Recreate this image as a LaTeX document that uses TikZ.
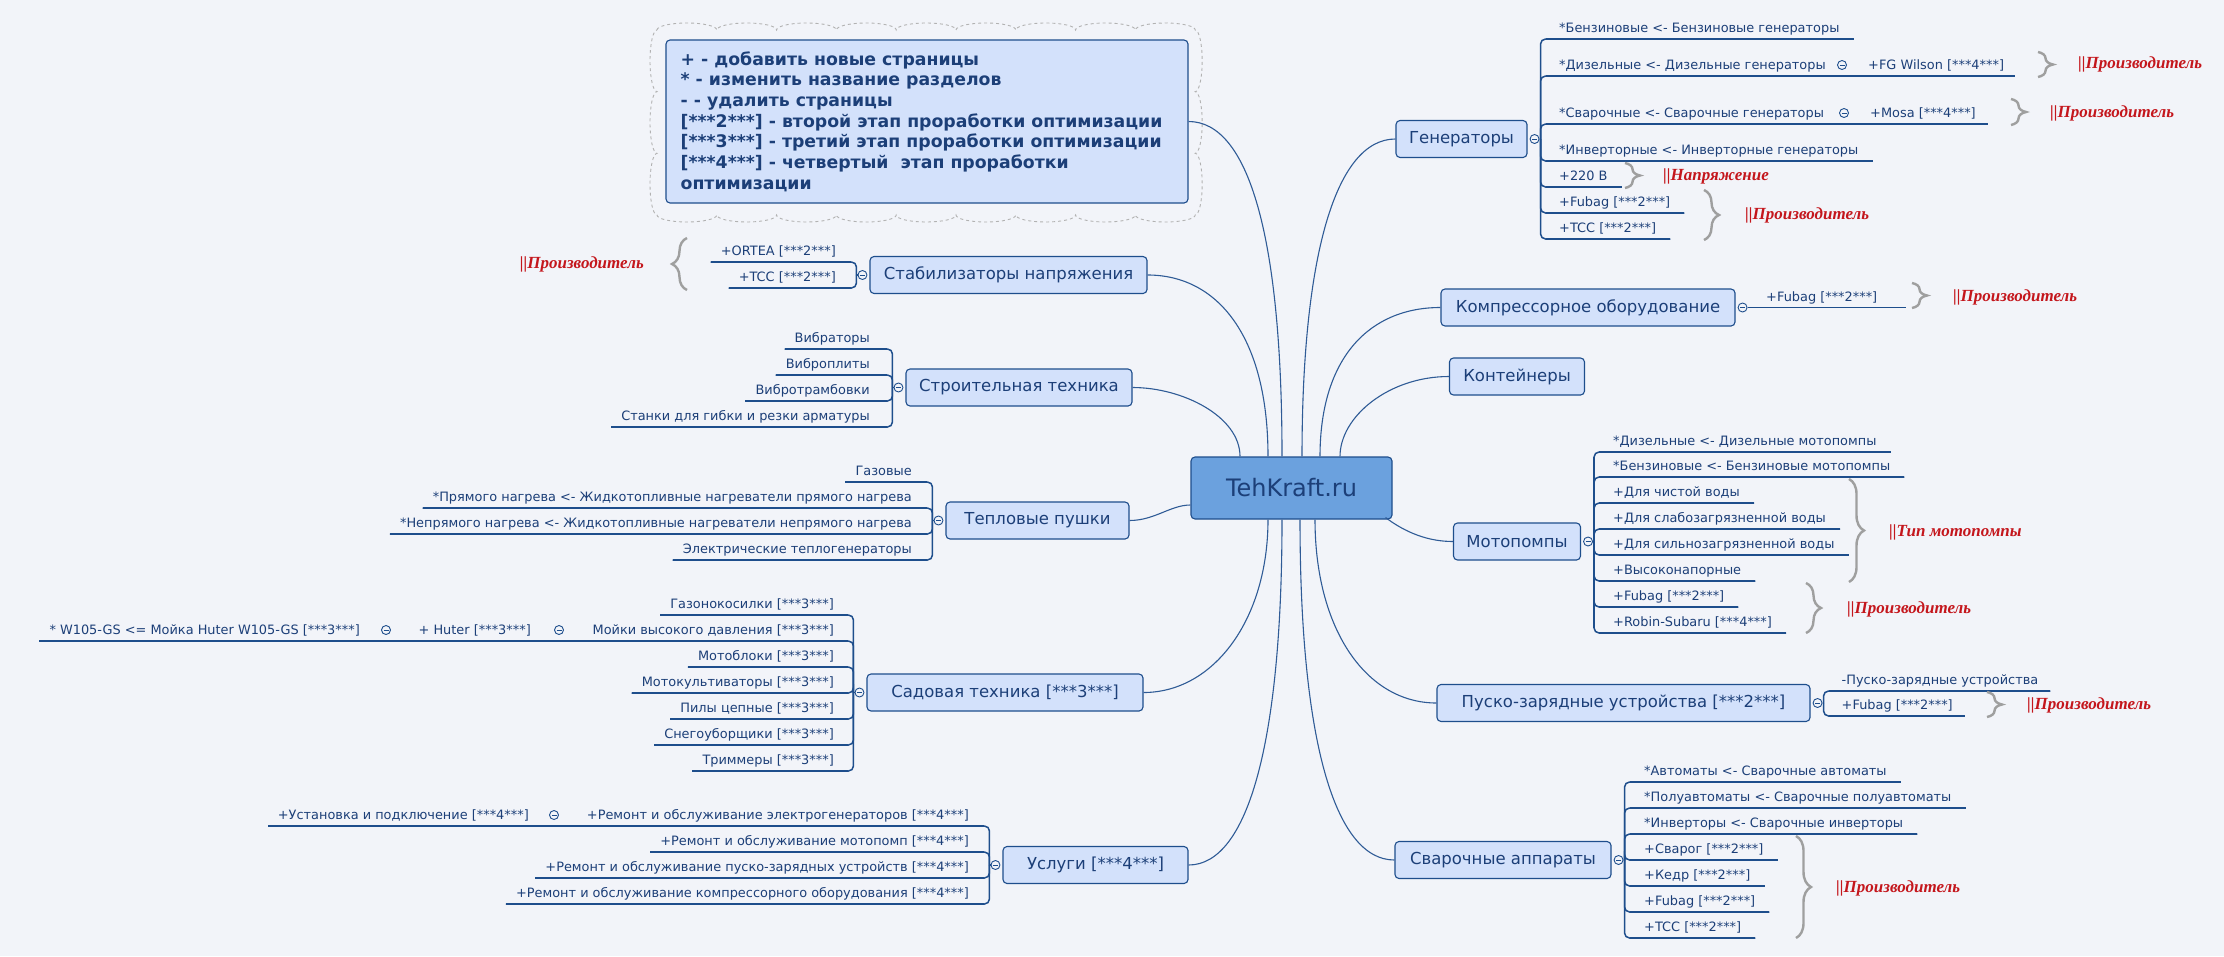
\documentclass[tikz,border=0pt]{standalone}
\usepackage{fontspec}
\setmainfont{DejaVu Sans}
\newfontfamily\tagfont{Liberation Serif}
\usetikzlibrary{decorations.pathreplacing,calc}

\definecolor{paper}{HTML}{F2F4F9}
\definecolor{boxfill}{HTML}{D3E1FB}
\definecolor{boxline}{HTML}{1E4E8C}
\definecolor{ink}{HTML}{1C3F78}
\definecolor{wire}{HTML}{2F5B96}
\definecolor{rootfill}{HTML}{6BA1DE}
\definecolor{tagred}{HTML}{C4161C}

\begin{document}
\begin{tikzpicture}[x=1pt,y=-1pt,
  topic/.style={draw=boxline,fill=boxfill,rounded corners=4pt,line width=1.1pt,text=ink,
    font=\fontsize{16.5}{20}\selectfont,inner sep=0pt,minimum height=37pt},
  kid/.style={text=ink,font=\fontsize{12.9}{15}\selectfont,inner sep=0pt},
  link/.style={draw=wire,line width=1.1pt},
  under/.style={draw=boxline,line width=1.5pt},
  elbow/.style={draw=boxline,line width=1.5pt,rounded corners=5pt},
  fold/.style={circle,draw=boxline,fill=paper,line width=0.9pt,minimum size=9pt,inner sep=0pt,
    path picture={\draw[boxline,line width=0.9pt] ([xshift=2pt]path picture bounding box.west) -- ([xshift=-2pt]path picture bounding box.east);}},
  tag/.style={text=tagred,font=\tagfont\bfseries\itshape\fontsize{17}{20}\selectfont,inner sep=0pt},
  curly/.style={draw=gray!75,line width=2.4pt,decorate,decoration={brace,amplitude=15pt}},
  cloudline/.style={draw=gray!60,dashed,line width=0.9pt}]

\useasboundingbox (0,0) rectangle (2224,956);
\fill[paper] (0,0) rectangle (2224,956);

% cloud round the legend
\draw[cloudline] (657,30)
  \foreach \k in {1,...,9}{ arc[start angle=180,end angle=360,x radius=29.9,y radius=7] }
  \foreach \k in {1,...,3}{ arc[start angle=-90,end angle=90,x radius=7,y radius=30.83] }
  \foreach \k in {1,...,9}{ arc[start angle=0,end angle=180,x radius=29.9,y radius=7] }
  \foreach \k in {1,...,3}{ arc[start angle=90,end angle=270,x radius=7,y radius=30.83] };

% topics
\node[topic,fill=rootfill,minimum width=201pt,minimum height=62pt,font=\fontsize{24}{28}\selectfont] (root) at (1291.5,488) {TehKraft.ru};
\node[topic,minimum width=522pt,minimum height=163pt] (note) at (927,121.5) {};
\node[anchor=west,align=left,inner sep=0pt,text=ink,font=\bfseries\fontsize{17.3}{20.7}\selectfont]
  (notetext) at ([xshift=15pt]note.west)
  {+ - добавить новые страницы\\
   {}* - изменить название разделов\\
   {}- - удалить страницы\\
   {}[***2***] - второй этап проработки оптимизации\\
   {}[***3***] - третий этап проработки оптимизации\\
   {}[***4***] - четвертый\ \ этап проработки\\
   {}оптимизации};
\node[topic,minimum width=277pt] (stab) at (1008.5,275) {Стабилизаторы напряжения};
\node[topic,minimum width=226pt] (constr) at (1019,387.5) {Строительная техника};
\node[topic,minimum width=183pt] (heat) at (1037.5,520.5) {Тепловые пушки};
\node[topic,minimum width=276pt] (garden) at (1005,692.5) {Садовая техника [***3***]};
\node[topic,minimum width=185pt] (serv) at (1095.5,865) {Услуги [***4***]};
\node[topic,minimum width=131pt] (gen) at (1461.5,139) {Генераторы};
\node[topic,minimum width=294pt] (compr) at (1588,307.5) {Компрессорное оборудование};
\node[topic,minimum width=135pt] (cont) at (1517,376.5) {Контейнеры};
\node[topic,minimum width=127pt] (pump) at (1517,541.5) {Мотопомпы};
\node[topic,minimum width=373pt] (charge) at (1623.5,703) {Пуско-зарядные устройства [***2***]};
\node[topic,minimum width=216pt] (weld) at (1503,860) {Сварочные аппараты};

% links from the root
\draw[link] ([xshift=-51.5pt]root.north) .. controls +(0,-40) and +(50,0) .. (constr.east);
\draw[link] ([xshift=-23.5pt]root.north) .. controls +(0,-120) and +(70,0) .. (stab.east);
\draw[link] ([xshift=-9.5pt]root.north) .. controls +(0,-220) and +(60,0) .. (note.east);
\draw[link] ([xshift=10.5pt]root.north) .. controls +(0,-200) and +(-60,0) .. (gen.west);
\draw[link] ([xshift=28.5pt]root.north) .. controls +(0,-100) and +(-70,0) .. (compr.west);
\draw[link] ([xshift=48.5pt]root.north) .. controls +(0,-40) and +(-60,0) .. (cont.west);
\draw[link] ([yshift=-17pt]root.west) .. controls +(-20,0) and +(25,0) .. (heat.east);
\draw[link] ([xshift=-23.5pt]root.south) .. controls +(0,100) and +(70,0) .. (garden.east);
\draw[link] ([xshift=-9.5pt]root.south) .. controls +(0,220) and +(60,0) .. (serv.east);
\draw[link] ([xshift=8.5pt]root.south) .. controls +(0,220) and +(-60,0) .. (weld.west);
\draw[link] ([xshift=23.5pt]root.south) .. controls +(0,110) and +(-70,0) .. (charge.west);
\draw[link] ([xshift=-7pt,yshift=2pt]root.south east) .. controls +(20,15) and +(-25,0) .. (pump.west);

% folds and branch points
\foreach \n in {stab,constr,heat,garden,serv}{
  \node[fold] (\n-f) at ([xshift=-7pt]\n.west) {};
  \coordinate (\n-v) at ([xshift=-13pt]\n.west);
  \draw[under] (\n-f.west) -- (\n-v);
}
\foreach \n in {gen,pump,charge,weld}{
  \node[fold] (\n-f) at ([xshift=7pt]\n.east) {};
  \coordinate (\n-v) at ([xshift=13pt]\n.east);
  \draw[under] (\n-f.east) -- (\n-v);
}
\node[fold] (compr-f) at ([xshift=7pt]compr.east) {};

% left branches
\foreach \lbl/\yy [count=\i] in {+ORTEA [***2***]/262, +TCC [***2***]/288}{
  \node[kid,anchor=base east] (stab-\i) at (836,\yy-6.5) {\lbl};
  \coordinate (stab-u\i) at ([xshift=-10pt,yshift=-6.5pt]stab-\i.base west);
  \draw[elbow] (stab-v) |- (stab-u\i);
  \draw[under] ($(stab-v |- stab-u\i)+(-5,0)$) -- (stab-u\i);
}
\draw[under,shorten <=5pt,shorten >=5pt] (stab-v |- stab-u1) -- (stab-v |- stab-u2);

\foreach \lbl/\yy [count=\i] in {Вибраторы/349, Виброплиты/375, Вибротрамбовки/401,
    Станки для гибки и резки арматуры/427}{
  \node[kid,anchor=base east] (constr-\i) at (870,\yy-6.5) {\lbl};
  \coordinate (constr-u\i) at ([xshift=-10pt,yshift=-6.5pt]constr-\i.base west);
  \draw[elbow] (constr-v) |- (constr-u\i);
  \draw[under] ($(constr-v |- constr-u\i)+(-5,0)$) -- (constr-u\i);
}
\draw[under,shorten <=5pt,shorten >=5pt] (constr-v |- constr-u1) -- (constr-v |- constr-u4);

\foreach \lbl/\yy [count=\i] in {Газовые/482,
    *Прямого нагрева <- Жидкотопливные нагреватели прямого нагрева/508,
    *Непрямого нагрева <- Жидкотопливные нагреватели непрямого нагрева/534,
    Электрические теплогенераторы/560}{
  \node[kid,anchor=base east] (heat-\i) at (912,\yy-6.5) {\lbl};
  \coordinate (heat-u\i) at ([xshift=-10pt,yshift=-6.5pt]heat-\i.base west);
  \draw[elbow] (heat-v) |- (heat-u\i);
  \draw[under] ($(heat-v |- heat-u\i)+(-5,0)$) -- (heat-u\i);
}
\draw[under,shorten <=5pt,shorten >=5pt] (heat-v |- heat-u1) -- (heat-v |- heat-u4);

\foreach \lbl/\yy [count=\i] in {Газонокосилки [***3***]/615, Мойки высокого давления [***3***]/641,
    Мотоблоки [***3***]/667, Мотокультиваторы [***3***]/693, Пилы цепные [***3***]/719,
    Снегоуборщики [***3***]/745, Триммеры [***3***]/771}{
  \node[kid,anchor=base east] (garden-\i) at (834,\yy-6.5) {\lbl};
  \coordinate (garden-u\i) at ([xshift=-10pt,yshift=-6.5pt]garden-\i.base west);
  \draw[elbow] (garden-v) |- (garden-u\i);
  \draw[under] ($(garden-v |- garden-u\i)+(-5,0)$) -- (garden-u\i);
}
\draw[under,shorten <=5pt,shorten >=5pt] (garden-v |- garden-u1) -- (garden-v |- garden-u7);
\node[fold] (garden-2f) at (559,630) {};
\node[kid,anchor=base east] (garden-2b) at (531,634.5) {+ Huter [***3***]};
\node[fold] (garden-2g) at (386,630) {};
\node[kid,anchor=base east] (garden-2c) at (360,634.5) {* W105-GS <= Мойка Huter W105-GS [***3***]};
\draw[under] (garden-u2) -- ([xshift=-10pt,yshift=-6.5pt]garden-2c.base west);

\foreach \lbl/\yy [count=\i] in {+Ремонт и обслуживание электрогенераторов [***4***]/826,
    +Ремонт и обслуживание мотопомп [***4***]/852,
    +Ремонт и обслуживание пуско-зарядных устройств [***4***]/878,
    +Ремонт и обслуживание компрессорного оборудования [***4***]/904}{
  \node[kid,anchor=base east] (serv-\i) at (969,\yy-6.5) {\lbl};
  \coordinate (serv-u\i) at ([xshift=-10pt,yshift=-6.5pt]serv-\i.base west);
  \draw[elbow] (serv-v) |- (serv-u\i);
  \draw[under] ($(serv-v |- serv-u\i)+(-5,0)$) -- (serv-u\i);
}
\draw[under,shorten <=5pt,shorten >=5pt] (serv-v |- serv-u1) -- (serv-v |- serv-u4);
\node[fold] (serv-1f) at (554,815) {};
\node[kid,anchor=base east] (serv-1b) at (529,819.5) {+Установка и подключение [***4***]};
\draw[under] (serv-u1) -- ([xshift=-10pt,yshift=-6.5pt]serv-1b.base west);

% right branches
\foreach \lbl/\yy [count=\i] in {*Бензиновые <- Бензиновые генераторы/39,
    *Дизельные <- Дизельные генераторы/76, *Сварочные <- Сварочные генераторы/124,
    *Инверторные <- Инверторные генераторы/161, +220 В/187,
    +Fubag [***2***]/213, +TCC [***2***]/239}{
  \node[kid,anchor=base west] (gen-\i) at (1559,\yy-6.5) {\lbl};
  \coordinate (gen-u\i) at ([xshift=14pt,yshift=-6.5pt]gen-\i.base east);
  \draw[elbow] (gen-v) |- (gen-u\i);
  \draw[under] ($(gen-v |- gen-u\i)+(5,0)$) -- (gen-u\i);
}
\draw[under,shorten <=5pt,shorten >=5pt] (gen-v |- gen-u1) -- (gen-v |- gen-u7);
\node[fold] (gen-2f) at (1842,65) {};
\node[kid,anchor=base west] (gen-2b) at (1868,69.5) {+FG Wilson [***4***]};
\draw[under] (gen-u2) -- ([xshift=11pt,yshift=-6.5pt]gen-2b.base east);
\node[fold] (gen-3f) at (1844,113) {};
\node[kid,anchor=base west] (gen-3b) at (1870,117.5) {+Mosa [***4***]};
\draw[under] (gen-u3) -- ([xshift=12pt,yshift=-6.5pt]gen-3b.base east);

\node[kid,anchor=base west] (compr-1) at (1766,301) {+Fubag [***2***]};
\coordinate (compr-e) at (1906,307.5);
\draw[under] (compr-f.east) -- (compr-e);

\foreach \lbl/\yy [count=\i] in {*Дизельные <- Дизельные мотопомпы/452,
    *Бензиновые <- Бензиновые мотопомпы/477, +Для чистой воды/503,
    +Для слабозагрязненной воды/529, +Для сильнозагрязненной воды/555,
    +Высоконапорные/581, +Fubag [***2***]/607, +Robin-Subaru [***4***]/633}{
  \node[kid,anchor=base west] (pump-\i) at (1613,\yy-6.5) {\lbl};
  \coordinate (pump-u\i) at ([xshift=14pt,yshift=-6.5pt]pump-\i.base east);
  \draw[elbow] (pump-v) |- (pump-u\i);
  \draw[under] ($(pump-v |- pump-u\i)+(5,0)$) -- (pump-u\i);
}
\draw[under,shorten <=5pt,shorten >=5pt] (pump-v |- pump-u1) -- (pump-v |- pump-u8);

\foreach \lbl/\yy [count=\i] in {-Пуско-зарядные устройства/691, +Fubag [***2***]/716}{
  \node[kid,anchor=base west] (charge-\i) at (1841.5,\yy-6.5) {\lbl};
  \coordinate (charge-u\i) at ([xshift=12pt,yshift=-6.5pt]charge-\i.base east);
  \draw[elbow] (charge-v) |- (charge-u\i);
  \draw[under] ($(charge-v |- charge-u\i)+(5,0)$) -- (charge-u\i);
}
\draw[under,shorten <=5pt,shorten >=5pt] (charge-v |- charge-u1) -- (charge-v |- charge-u2);

\foreach \lbl/\yy [count=\i] in {*Автоматы <- Сварочные автоматы/782,
    *Полуавтоматы <- Сварочные полуавтоматы/808, *Инверторы <- Сварочные инверторы/834,
    +Сварог [***2***]/860, +Кедр [***2***]/886, +Fubag [***2***]/912, +TCC [***2***]/938}{
  \node[kid,anchor=base west] (weld-\i) at (1644,\yy-6.5) {\lbl};
  \coordinate (weld-u\i) at ([xshift=14pt,yshift=-6.5pt]weld-\i.base east);
  \draw[elbow] (weld-v) |- (weld-u\i);
  \draw[under] ($(weld-v |- weld-u\i)+(5,0)$) -- (weld-u\i);
}
\draw[under,shorten <=5pt,shorten >=5pt] (weld-v |- weld-u1) -- (weld-v |- weld-u7);

% braces and notes
\draw[curly] (687,290) -- (687,238);
\node[tag,anchor=east] (tag-stab) at (644,264) {||Производитель};
\foreach \bx/\bt/\bb/\tx/\ty/\tt [count=\i] in {2038/52/77/2078/64/Производитель,
    2011/99/125/2050/113/Производитель, 1625/163/188/1663/176/Напряжение,
    1704/190/240/1745/215/Производитель, 1912/283/308/1953/297/Производитель,
    1849/479/582/1889/532/Тип мотопомпы, 1806/583/633/1847/609/Производитель,
    1987/692/717/2027/705/Производитель, 1796/836/938/1836/888/Производитель}{
  \draw[curly] (\bx,\bt) -- (\bx,\bb);
  \node[tag,anchor=west] (tag-\i) at (\tx,\ty) {||\tt};
}
\end{tikzpicture}
\end{document}
